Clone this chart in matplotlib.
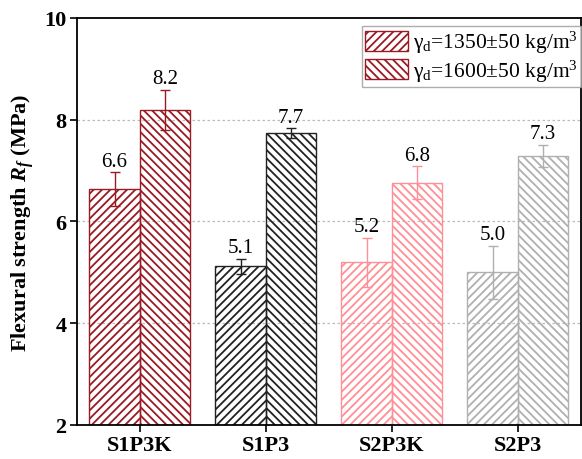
import matplotlib
matplotlib.use("Agg")
import matplotlib.pyplot as plt
import numpy as np

# =====================
# 데이터
# =====================
groups = ["S1P3K", "S1P3", "S2P3K", "S2P3"]
colors = ["#9a1a24", "#222222", "#ff8f96", "#b0b0b0"]

rf_1350 = [6.64, 5.12, 5.20, 5.00]
err_1350 = [0.33, 0.15, 0.48, 0.52]
rf_1600 = [8.19, 7.73, 6.76, 7.29]
err_1600 = [0.40, 0.10, 0.32, 0.22]

labels_1350 = ["6.6", "5.1", "5.2", "5.0"]
labels_1600 = ["8.2", "7.7", "6.8", "7.3"]

legend_labels = [r"γ$_\mathrm{d}$=1350±50 kg/m$^3$",
                 r"γ$_\mathrm{d}$=1600±50 kg/m$^3$"]

plt.rcParams["font.family"] = ["Liberation Serif", "DejaVu Serif"]
plt.rcParams["mathtext.fontset"] = "custom"
plt.rcParams["mathtext.rm"] = "Liberation Serif"
plt.rcParams["mathtext.it"] = "Liberation Serif:italic:bold"
plt.rcParams["mathtext.bf"] = "Liberation Serif:bold"
plt.rcParams["hatch.linewidth"] = 1.3

fig = plt.figure(figsize=(5.82, 4.6), dpi=100)
ax = fig.add_axes([0.132, 0.074, 0.866, 0.885])

x = np.arange(len(groups))
w = 0.4
hatch_a = "////"
hatch_b = "\\\\\\\\"

for i, c in enumerate(colors):
    ax.bar(x[i] - w / 2, rf_1350[i], w, bottom=0, facecolor="none",
           edgecolor=c, hatch=hatch_a, linewidth=1.0)
    ax.bar(x[i] + w / 2, rf_1600[i], w, bottom=0, facecolor="none",
           edgecolor=c, hatch=hatch_b, linewidth=1.0)
    ax.errorbar(x[i] - w / 2, rf_1350[i], yerr=err_1350[i], color=c,
                capsize=3.5, elinewidth=1.0, capthick=1.0, fmt="none")
    ax.errorbar(x[i] + w / 2, rf_1600[i], yerr=err_1600[i], color=c,
                capsize=3.5, elinewidth=1.0, capthick=1.0, fmt="none")
    ax.text(x[i] - w / 2, rf_1350[i] + err_1350[i] + 0.03, labels_1350[i],
            ha="center", va="bottom", fontsize=15)
    ax.text(x[i] + w / 2, rf_1600[i] + err_1600[i] + 0.03, labels_1600[i],
            ha="center", va="bottom", fontsize=15)

# 범례용 핸들
h1 = ax.bar([0], [0], facecolor="none", edgecolor=colors[0], hatch=hatch_a,
            linewidth=1.0)
h2 = ax.bar([0], [0], facecolor="none", edgecolor=colors[0], hatch=hatch_b,
            linewidth=1.0)
leg = ax.legend([h1, h2], legend_labels, loc="upper right", fontsize=15.5,
                frameon=True, fancybox=False, edgecolor="#999999",
                handlelength=2.0, handleheight=1.05, handletextpad=0.2,
                borderpad=0.15, labelspacing=0.1, borderaxespad=0,
                bbox_to_anchor=(1.0, 0.98))
leg.get_frame().set_linewidth(1.0)

for yv in [4, 6, 8]:
    ax.axhline(yv, color="#bbbbbb", linestyle=(0, (2, 2)), linewidth=0.9,
               zorder=0)

ax.set_xlim(-0.5, 3.5)
ax.set_ylim(2, 10)
ax.set_xticks(x)
ax.set_xticklabels(groups, fontsize=16, fontweight="bold")
ax.set_yticks([2, 4, 6, 8, 10])
ax.set_yticklabels(["2", "4", "6", "8", "10"], fontsize=16,
                   fontweight="bold")
ax.tick_params(direction="out", length=5, width=1.2, top=False,
               right=False, pad=2.5)
for s in ax.spines.values():
    s.set_linewidth(1.3)
ax.set_ylabel(r"Flexural strength $R_f$ (MPa)", fontsize=16,
              fontweight="bold", labelpad=6)

fig.savefig("out.png", dpi=100)
